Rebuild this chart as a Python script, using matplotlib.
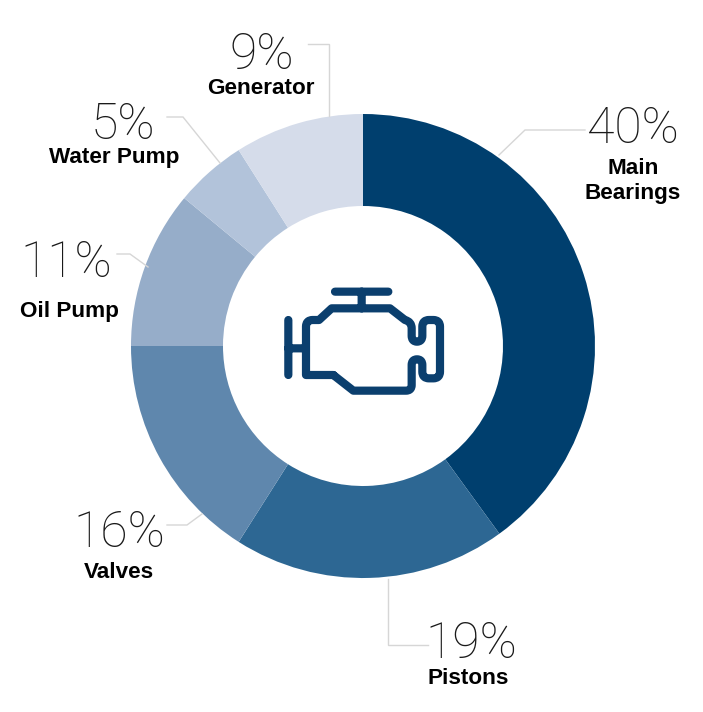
import matplotlib
matplotlib.use("Agg")
import matplotlib.pyplot as plt
from matplotlib.path import Path
from matplotlib.patches import PathPatch

# data
categories = ["Main\nBearings", "Pistons", "Valves", "Oil Pump", "Water Pump", "Generator"]
values = [40, 19, 16, 11, 5, 9]

colors = ["#003f6e", "#2d6793", "#5f87ad", "#96adc9", "#b2c3da", "#d5dcea"]

H = 712
fig = plt.figure(figsize=(7.03, 7.12), dpi=100)
ax = fig.add_axes([0, 0, 1, 1])


# everything below is placed in reference pixels, y flipped
def py(y):
    return H - y


wedges, _ = ax.pie(values, colors=colors, startangle=90, counterclock=False,
                   center=(363, py(346)), radius=232,
                   wedgeprops=dict(width=92, linewidth=0), frame=True)
ax.set_xlim(0, 703)
ax.set_ylim(0, H)
ax.axis("off")

# leader lines, same order as categories
leaders = [
    [(585, 130), (525, 130), (499, 155)],
    [(388, 579), (388, 645), (428, 645)],
    [(167, 525), (187, 525), (202, 514)],
    [(117, 254), (130, 254), (148, 267)],
    [(167, 117), (183, 117), (220, 163)],
    [(308, 44), (329, 44), (329, 116)],
]
for pts in leaders:
    ax.plot([p[0] for p in pts], [py(p[1]) for p in pts], color="#d6d6d6", lw=1.0,
            solid_joinstyle="miter")

# right edge / baseline of the percent, centre of the name
pct_pos = [(679, 143), (517, 658), (165, 547), (112, 277), (155, 139), (294, 69)]
name_pos = [(633, 181), (468, 679), (119, 573), (69, 311), (114, 158), (261, 88)]

for i, name in enumerate(categories):
    ax.text(pct_pos[i][0], py(pct_pos[i][1]), str(values[i]) + "%", ha="right", va="baseline",
            fontsize=36, family="Roboto", fontweight=100, color="#1a1a1a")
    ax.text(name_pos[i][0], py(name_pos[i][1]), name, ha="center", va="center",
            fontsize=16.2, family="Liberation Sans", fontweight="bold", color="black",
            linespacing=1.3)


def ic(x, y):
    return (270 + x / 3, py(270 + y / 3))


M, L, C = Path.MOVETO, Path.LINETO, Path.CURVE3
icon = [
    (M, 195, 65), (L, 355, 65),
    (M, 275, 65), (L, 275, 115),
    (M, 55, 150), (L, 55, 315),
    (M, 55, 235), (L, 108, 235),
    (M, 190, 315), (L, 108, 315), (L, 108, 170), (C, 108, 150), (C, 128, 150),
    (L, 147, 150), (L, 185, 115), (L, 360, 115), (L, 405, 150),
    (C, 425, 155), (C, 425, 175), (L, 425, 197), (C, 425, 215), (C, 441, 215),
    (C, 457, 215), (C, 457, 197), (L, 457, 170), (C, 457, 150), (C, 477, 150),
    (L, 490, 150), (C, 510, 150), (C, 510, 170), (L, 510, 305), (C, 510, 325), (C, 490, 325),
    (L, 477, 325), (C, 457, 325), (C, 457, 305), (L, 457, 285), (C, 457, 268), (C, 441, 268),
    (C, 425, 268), (C, 425, 285), (L, 425, 345), (C, 425, 362), (C, 408, 362),
    (L, 250, 362), (L, 190, 315),
]
codes = [p[0] for p in icon]
verts = [ic(p[1], p[2]) for p in icon]
ax.add_patch(PathPatch(Path(verts, codes), fill=False, edgecolor="#0b3f6e", lw=5.9,
                       capstyle="round", joinstyle="round"))

fig.savefig("out.png", dpi=100)
